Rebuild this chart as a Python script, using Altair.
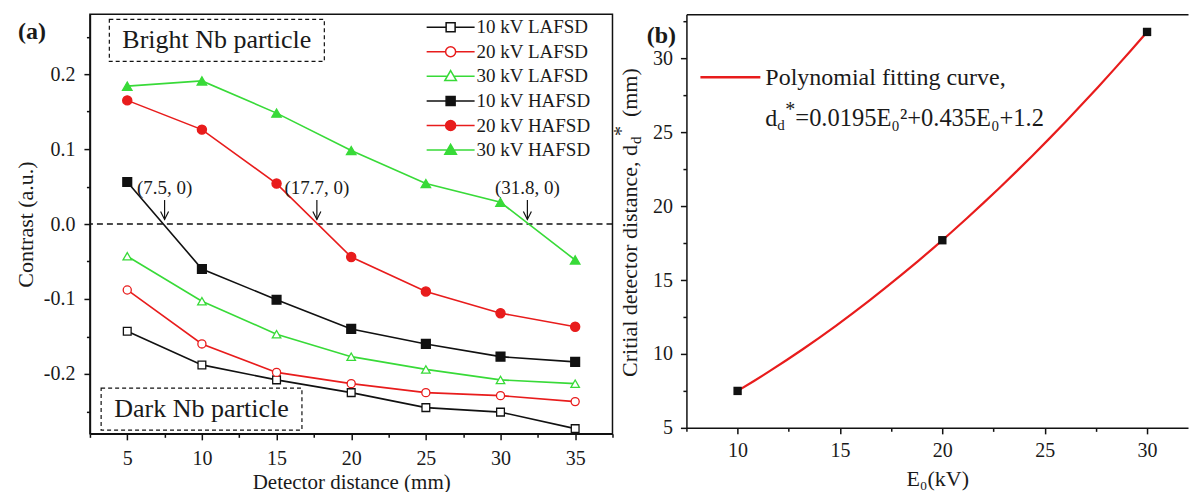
import altair as alt
import pandas as pd

FONT = "Liberation Serif"
INK = "#1a1a1a"
BLACK = "#111111"
RED = "#e81c1c"
GREEN = "#38da38"

# ---------------- panel (a) data ----------------
distance_mm = [5, 10, 15, 20, 25, 30, 35]
series_names = ["10 kV LAFSD", "20 kV LAFSD", "30 kV LAFSD",
                "10 kV HAFSD", "20 kV HAFSD", "30 kV HAFSD"]
contrast_10kv_lafsd = [-0.143, -0.188, -0.208, -0.225, -0.245, -0.251, -0.273]
contrast_20kv_lafsd = [-0.088, -0.160, -0.198, -0.213, -0.225, -0.229, -0.237]
contrast_30kv_lafsd = [-0.043, -0.103, -0.147, -0.177, -0.194, -0.208, -0.213]
contrast_10kv_hafsd = [0.056, -0.060, -0.101, -0.140, -0.160, -0.177, -0.184]
contrast_20kv_hafsd = [0.165, 0.126, 0.054, -0.044, -0.090, -0.119, -0.137]
contrast_30kv_hafsd = [0.184, 0.191, 0.148, 0.098, 0.054, 0.029, -0.048]

crossing_x = [7.5, 17.7, 31.8]
crossing_labels = ["(7.5, 0)", "(17.7, 0)", "(31.8, 0)"]

box_labels = ["Bright Nb particle", "Dark Nb particle"]
box_x0 = [3.8, 3.25]
box_x1 = [18.2, 16.7]
box_y0 = [0.217, -0.275]
box_y1 = [0.273, -0.219]

x_major_a = [5, 10, 15, 20, 25, 30, 35]
x_minor_a = [2.5, 7.5, 12.5, 17.5, 22.5, 27.5, 32.5, 37.5]
y_major_a = [-0.2, -0.1, 0.0, 0.1, 0.2]
y_minor_a = [-0.25, -0.15, -0.05, 0.05, 0.15, 0.25]

# ---------------- panel (b) data ----------------
energy_kv = [10, 20, 30]
critical_mm = [7.5, 17.7, 31.8]
x_major_b = [10, 15, 20, 25, 30]
x_minor_b = [7.5, 12.5, 17.5, 22.5, 27.5]
y_major_b = [5, 10, 15, 20, 25, 30]
y_minor_b = [7.5, 12.5, 17.5, 22.5, 27.5, 32.5]

# ---------------- tables ----------------
all_series = [contrast_10kv_lafsd, contrast_20kv_lafsd, contrast_30kv_lafsd,
              contrast_10kv_hafsd, contrast_20kv_hafsd, contrast_30kv_hafsd]
rows = []
for name, vals in zip(series_names, all_series):
    for d, v in zip(distance_mm, vals):
        rows.append({"series": name, "distance": d, "contrast": v})
df_a = pd.DataFrame(rows)
df_zero = pd.DataFrame({"y": [0.0]})
df_cross = pd.DataFrame({"x": crossing_x, "label": crossing_labels,
                         "y0": [0.0] * 3, "top": [0.032] * 3, "tip": [0.006] * 3})
df_box = pd.DataFrame({"label": box_labels, "x0": box_x0, "x1": box_x1,
                       "y0": box_y0, "y1": box_y1})
df_box["xc"] = (df_box["x0"] + df_box["x1"]) / 2
df_box["yc"] = (df_box["y0"] + df_box["y1"]) / 2
df_b = pd.DataFrame({"energy": energy_kv, "dist": critical_mm})

# ---------------- scales ----------------
xs_a = alt.Scale(domain=[2.5, 37.5], nice=False, zero=False)
ys_a = alt.Scale(domain=[-0.28, 0.28], nice=False, zero=False)
color_s = alt.Scale(domain=series_names, range=[BLACK, RED, GREEN, BLACK, RED, GREEN])
fill_s = alt.Scale(domain=series_names, range=["white", "white", "white", BLACK, RED, GREEN])
shape_s = alt.Scale(domain=series_names,
                    range=["square", "circle", "triangle-up", "square", "circle", "triangle-up"])
size_s = alt.Scale(domain=series_names, range=[60, 90, 100, 60, 90, 100])

sq = "M-2.4,0H-0.45M0.45,0H2.4M-0.45,-0.45H0.45V0.45H-0.45Z"
ci = "M-2.4,0H-0.5M0.5,0H2.4M0.5,0A0.5,0.5,0,1,1,-0.5,0A0.5,0.5,0,1,1,0.5,0Z"
tr = "M-2.4,0H-0.34M0.34,0H2.4M0,-0.58L0.58,0.42H-0.58Z"
legend_shape_s = alt.Scale(domain=series_names, range=[sq, ci, tr, sq, ci, tr])

ylab_expr = "replace(format(datum.value, '.1f'), '\u2212', '-')"

AX = dict(domainColor=BLACK, domainWidth=1.5, tickColor=BLACK, tickWidth=1.5,
          labelFont=FONT, titleFont=FONT, labelColor=INK, titleColor=INK,
          titleFontWeight="normal", grid=False)

x_axis_a = alt.Axis(orient="bottom", values=x_major_a, tickSize=6, labelFontSize=20,
                    labelPadding=9, title="Detector distance (mm)", titleFontSize=21,
                    titlePadding=3, format="d", **AX)
y_axis_a = alt.Axis(orient="left", values=y_major_a, tickSize=6, labelFontSize=20,
                    labelPadding=9, labelExpr=ylab_expr, title="Contrast (a.u.)",
                    titleFontSize=22, titlePadding=6, **AX)
x_minor_axis_a = alt.Axis(orient="bottom", values=x_minor_a, tickSize=3.5, labels=False,
                          domain=False, title=None, tickColor=BLACK, tickWidth=1.5, grid=False)
y_minor_axis_a = alt.Axis(orient="left", values=y_minor_a, tickSize=3.5, labels=False,
                          domain=False, title=None, tickColor=BLACK, tickWidth=1.5, grid=False)

base_a = alt.Chart(df_a)

zero_line = alt.Chart(df_zero).mark_rule(color=BLACK, strokeWidth=1.4, strokeDash=[6, 4]).encode(
    y=alt.Y("y:Q", scale=ys_a, axis=None))

lines_a = base_a.mark_line(strokeWidth=1.6).encode(
    x=alt.X("distance:Q", scale=xs_a, axis=x_axis_a),
    y=alt.Y("contrast:Q", scale=ys_a, axis=y_axis_a),
    color=alt.Color("series:N", scale=color_s, legend=None),
)

points_a = base_a.mark_point(opacity=1, strokeWidth=1.3).encode(
    x=alt.X("distance:Q", scale=xs_a, axis=None),
    y=alt.Y("contrast:Q", scale=ys_a, axis=None),
    color=alt.Color("series:N", scale=color_s, legend=None),
    fill=alt.Fill("series:N", scale=fill_s, legend=None),
    shape=alt.Shape("series:N", scale=shape_s, legend=None),
    size=alt.Size("series:N", scale=size_s, legend=None),
)

minor_a = base_a.transform_filter("false").mark_point().encode(
    x=alt.X("distance:Q", scale=xs_a, axis=x_minor_axis_a),
    y=alt.Y("contrast:Q", scale=ys_a, axis=y_minor_axis_a),
)

leg = alt.Legend(title=None, orient="none", legendX=350, legendY=2, symbolSize=400,
                 symbolStrokeWidth=1.5, symbolOpacity=1, labelFont=FONT, labelFontSize=19,
                 labelColor=INK, labelOffset=15, rowPadding=3.6, padding=0)
legend_a = base_a.transform_filter("false").mark_point(opacity=1).encode(
    x=alt.X("distance:Q", scale=xs_a, axis=None),
    y=alt.Y("contrast:Q", scale=ys_a, axis=None),
    color=alt.Color("series:N", scale=color_s, legend=leg),
    fill=alt.Fill("series:N", scale=fill_s, legend=leg),
    shape=alt.Shape("series:N", scale=legend_shape_s, legend=leg),
)

cross_base = alt.Chart(df_cross)
cross_text = cross_base.mark_text(font=FONT, fontSize=19, color=INK, dy=-36,
                                  baseline="middle").encode(
    x=alt.X("x:Q", scale=xs_a, axis=None), y=alt.Y("y0:Q", scale=ys_a, axis=None),
    text="label:N")
cross_rule = cross_base.mark_rule(color=BLACK, strokeWidth=1.2).encode(
    x=alt.X("x:Q", scale=xs_a, axis=None), y=alt.Y("top:Q", scale=ys_a, axis=None),
    y2="tip:Q")
cross_head = cross_base.mark_point(shape="M-1,-2L0,0L1,-2", size=64, filled=False,
                                   color=BLACK, strokeWidth=1.2, opacity=1).encode(
    x=alt.X("x:Q", scale=xs_a, axis=None), y=alt.Y("tip:Q", scale=ys_a, axis=None))

box_base = alt.Chart(df_box)
boxes = box_base.mark_rect(fill="white", fillOpacity=0, stroke=BLACK, strokeWidth=1.2,
                           strokeDash=[4, 3]).encode(
    x=alt.X("x0:Q", scale=xs_a, axis=None), x2="x1:Q",
    y=alt.Y("y0:Q", scale=ys_a, axis=None), y2="y1:Q")
box_text = box_base.mark_text(font=FONT, fontSize=26, color=INK, baseline="middle").encode(
    x=alt.X("xc:Q", scale=xs_a, axis=None), y=alt.Y("yc:Q", scale=ys_a, axis=None),
    text="label:N")


def txt(s, x, y, size, **kw):
    return alt.Chart(pd.DataFrame({"t": [s]})).mark_text(
        font=FONT, fontSize=size, color=INK, **kw).encode(
        text="t:N", x=alt.value(x), y=alt.value(y))


label_a = txt("(a)", -58, 18, 24, fontWeight="bold", baseline="middle")

left = alt.layer(
    zero_line, lines_a, points_a, minor_a, legend_a,
    cross_rule, cross_head, cross_text, boxes, box_text, label_a,
).resolve_scale(
    color="independent", fill="independent", shape="independent", size="independent"
).resolve_axis(x="independent", y="independent").properties(
    width=523, height=420,
    view=alt.ViewBackground(stroke=BLACK, strokeWidth=1.5),
)

# ---------------- panel (b) ----------------
xs_b = alt.Scale(domain=[7.5, 32], nice=False, zero=False)
ys_b = alt.Scale(domain=[5, 33], nice=False, zero=False)

x_axis_b = alt.Axis(orient="bottom", values=x_major_b, tickSize=6, labelFontSize=20,
                    labelPadding=7, title="E\u2080(kV)", titleFontSize=22, titlePadding=8, **AX)
y_axis_b = alt.Axis(orient="left", values=y_major_b, tickSize=6, labelFontSize=20,
                    labelPadding=8, title=None, **AX)
x_minor_axis_b = alt.Axis(orient="bottom", values=x_minor_b, tickSize=3.5, labels=False,
                          domain=False, title=None, tickColor=BLACK, tickWidth=1.5, grid=False)
y_minor_axis_b = alt.Axis(orient="left", values=y_minor_b, tickSize=3.5, labels=False,
                          domain=False, title=None, tickColor=BLACK, tickWidth=1.5, grid=False)
x_top_axis_b = alt.Axis(orient="top", ticks=False, labels=False, domain=True, title=None,
                        domainColor=BLACK, domainWidth=1.5, grid=False)

base_b = alt.Chart(df_b)
curve_b = base_b.transform_regression(
    "energy", "dist", method="poly", order=2, extent=[10, 30]
).mark_line(color=RED, strokeWidth=2.2).encode(
    x=alt.X("energy:Q", scale=xs_b, axis=x_axis_b),
    y=alt.Y("dist:Q", scale=ys_b, axis=y_axis_b),
)
points_b = base_b.mark_point(shape="square", size=70, filled=True, color=BLACK,
                             opacity=1).encode(
    x=alt.X("energy:Q", scale=xs_b, axis=None),
    y=alt.Y("dist:Q", scale=ys_b, axis=None),
)
minor_b = base_b.transform_filter("false").mark_point().encode(
    x=alt.X("energy:Q", scale=xs_b, axis=x_minor_axis_b),
    y=alt.Y("dist:Q", scale=ys_b, axis=y_minor_axis_b),
)
top_b = base_b.transform_filter("false").mark_point().encode(
    x=alt.X("energy:Q", scale=xs_b, axis=x_top_axis_b),
)

leg_line_b = alt.Chart(pd.DataFrame({"k": [1]})).mark_rule(color=RED, strokeWidth=2.5).encode(
    x=alt.value(14), x2=alt.value(74), y=alt.value(63))
leg_t1 = txt("Polynomial fitting curve,", 79, 64, 24, align="left", baseline="middle")
leg_t2a = txt("d", 79, 105, 24, align="left", baseline="middle")
leg_t2b = txt("d", 91, 111, 15, align="left", baseline="middle")
leg_t2c = txt("*", 99, 96, 20, align="left", baseline="middle")
leg_t2d = txt("=0.0195E\u2080\u00b2+0.435E\u2080+1.2", 109, 105, 24.5, align="left",
              baseline="middle")

YT_X = -56
YT_Y = 131
ytitle1 = txt("Critial detector distance, d", YT_X, YT_Y, 22, angle=270, align="right",
              baseline="middle")
ytitle2 = txt("d", YT_X, YT_Y, 15, angle=270, align="left", baseline="middle", dx=1, dy=6)
ytitle3 = txt("*", YT_X, YT_Y, 20, angle=270, align="left", baseline="middle", dx=9, dy=-8)
ytitle4 = txt("(mm)", YT_X, YT_Y, 22, angle=270, align="left", baseline="middle", dx=28)
label_b = txt("(b)", -25, 22, 24, fontWeight="bold", baseline="middle")

right = alt.layer(
    curve_b, points_b, minor_b, top_b, leg_line_b, leg_t1, leg_t2a, leg_t2b, leg_t2c, leg_t2d,
    ytitle1, ytitle2, ytitle3, ytitle4, label_b,
).resolve_axis(x="independent", y="independent").properties(
    width=502, height=414,
    view=alt.ViewBackground(stroke="transparent"),
)

chart = alt.hconcat(
    left, right, spacing=74, bounds="flush",
    padding={"left": 5, "top": 5, "right": 0, "bottom": 3},
    background="white",
)

chart.save("out.html", embed_options={"renderer": "svg", "actions": False})
